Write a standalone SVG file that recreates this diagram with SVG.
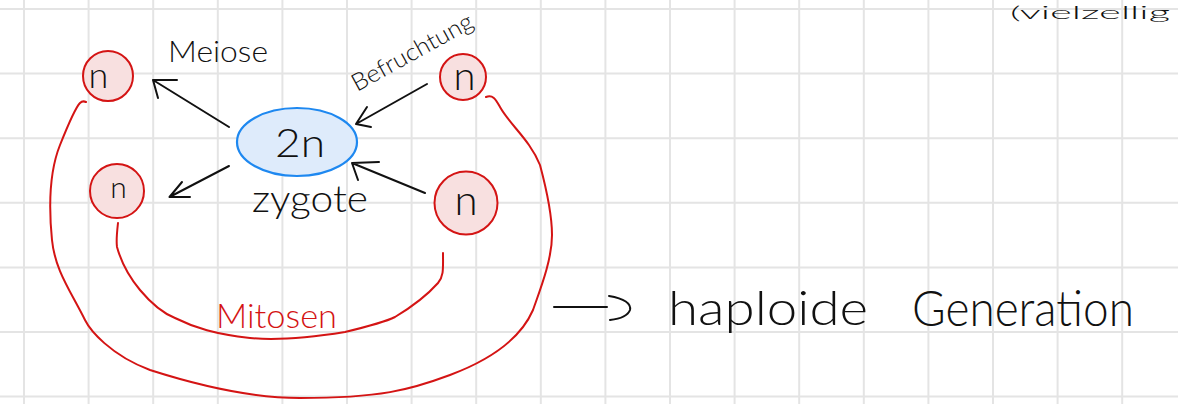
<svg xmlns="http://www.w3.org/2000/svg" width="1178" height="404" viewBox="0 0 1178 404">
<style>
.grid{stroke:#e4e4e4;stroke-width:2;fill:none}
.hw{font-family:"Lato","Open Sans","Liberation Sans",sans-serif;font-weight:300;fill:#111}
.red{fill:#d41414}
.cell{fill:#f8e0e0;stroke:#d41414;stroke-width:2}
.zyg{fill:#deebfb;stroke:#1e88f0;stroke-width:2.2}
.ink{stroke:#111;stroke-width:2;fill:none;stroke-linecap:round;stroke-linejoin:round}
.rink{stroke:#d41414;stroke-width:2;fill:none;stroke-linecap:round;stroke-linejoin:round}
</style>
<rect width="1178" height="404" fill="#ffffff"/>
<path class="grid" d="M24,0V404M88.6,0V404M153.2,0V404M217.8,0V404M282.4,0V404M347,0V404M411.6,0V404M476.2,0V404M540.8,0V404M605.4,0V404M670,0V404M734.6,0V404M799.2,0V404M863.8,0V404M928.4,0V404M993,0V404M1057.6,0V404M1122.2,0V404M0,9H1178M0,73.6H1178M0,138.2H1178M0,202.8H1178M0,267.4H1178M0,332H1178M0,396.6H1178"/>
<g id="connectors">
<path class="rink" d="M486,97 C493,94 496,100 500,107 C510,125 530,140 540,165 C548,195 552,215 552,235 C552,260 540,290 533,310 C520,340 490,360 450,375 C410,390 380,398 300,398 C250,398 200,386 150,370 C110,355 90,330 85,320 C70,290 55,270 52,240 C48,200 50,170 60,145 C68,125 75,108 80,103 C82,101 84,101 86,102"/>
<path class="rink" d="M118,223 C117,232 116,240 117,247 C122,265 130,278 140,290 C150,302 160,312 175,318 C195,328 215,334 250,338 C280,341 320,336 345,332 C370,326 385,322 395,317 C415,305 430,292 438,283 C444,276 443,268 443,253"/>
<path class="ink" d="M229,127 L153,80 M177,80 L153,80 L158,98"/>
<path class="ink" d="M229,166 L169.5,197 M182,182 L169.5,197 L190,197"/>
<path class="ink" d="M427,84 L356,124 M367,107 L356,124 L371,127"/>
<path class="ink" d="M425,193 L352,163 M379,162 L352,163 L358,180"/>
<path class="ink" d="M554,307 L607,307 M609,296 Q632,300 630,310 Q627,318 610,320"/>
</g>
<g id="zygote">
<ellipse class="zyg" cx="297" cy="142" rx="60" ry="34"/>
<text class="hw" x="300" y="157" font-size="40" text-anchor="middle" textLength="50" lengthAdjust="spacingAndGlyphs">2n</text>
<text class="hw" x="252" y="212" font-size="38" textLength="116" lengthAdjust="spacingAndGlyphs">zygote</text>
</g>
<g id="cell-top-left">
<circle class="cell" cx="108" cy="76" r="25"/>
<text class="hw" x="98.5" y="88" font-size="36" text-anchor="middle">n</text>
</g>
<g id="cell-mid-left">
<circle class="cell" cx="117" cy="191" r="27"/>
<text class="hw" x="118.5" y="198" font-size="30" text-anchor="middle">n</text>
</g>
<g id="cell-top-right">
<circle class="cell" cx="463" cy="77" r="23"/>
<text class="hw" x="464.5" y="90" font-size="40" text-anchor="middle">n</text>
</g>
<g id="cell-bottom-right">
<circle class="cell" cx="466" cy="203" r="31.5"/>
<text class="hw" x="466" y="215" font-size="42" text-anchor="middle">n</text>
</g>
<g id="labels">
<text class="hw" x="168" y="62" font-size="29" textLength="100" lengthAdjust="spacingAndGlyphs">Meiose</text>
<text class="hw" x="0" y="0" font-size="24" textLength="135" lengthAdjust="spacingAndGlyphs" transform="translate(357,92) rotate(-29)">Befruchtung</text>
<text class="hw red" x="216" y="328" font-size="34" textLength="121" lengthAdjust="spacingAndGlyphs">Mitosen</text>
<text class="hw" x="668" y="325" font-size="48" textLength="200" lengthAdjust="spacingAndGlyphs">haploide</text>
<text class="hw" x="912" y="326" font-size="50" textLength="222" lengthAdjust="spacingAndGlyphs">Generation</text>
<text class="hw" x="1010" y="19" font-size="17" textLength="160" lengthAdjust="spacingAndGlyphs">(vielzellig</text>
</g>
</svg>
